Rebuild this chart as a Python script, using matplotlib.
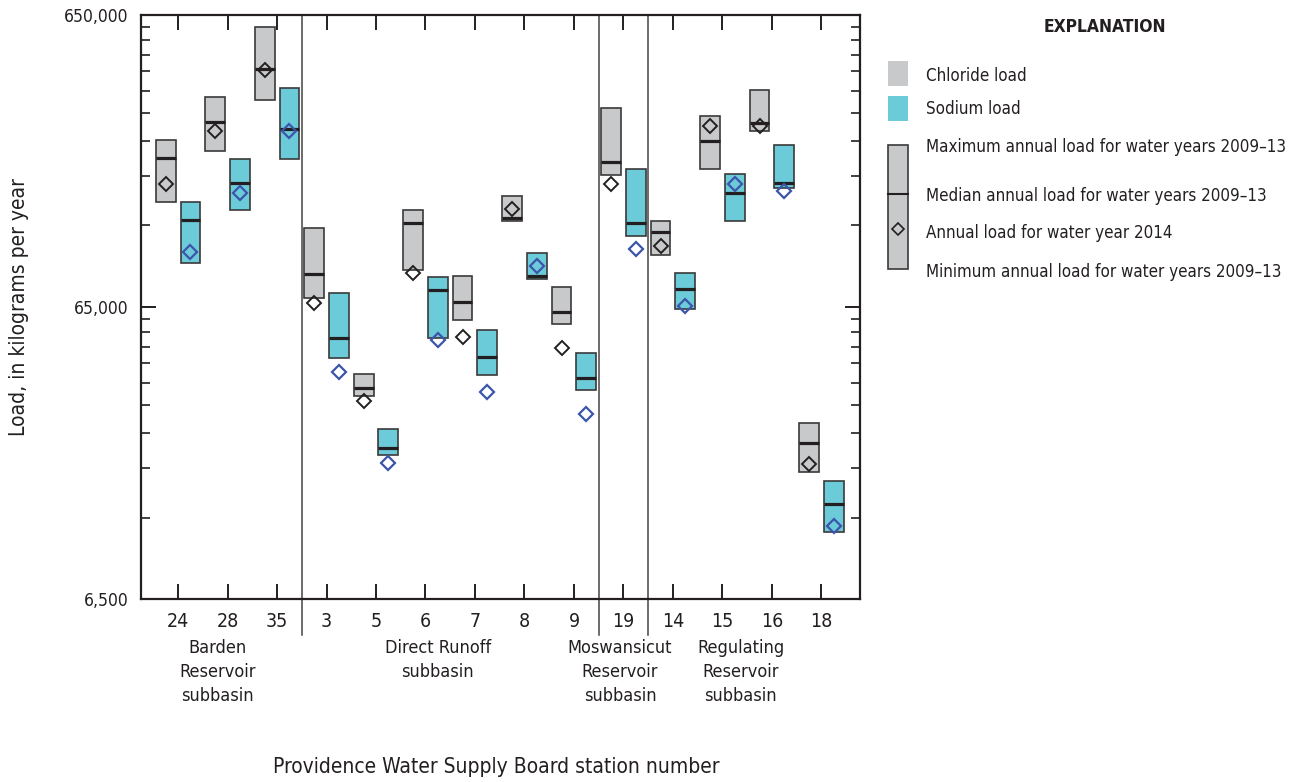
import numpy as np
import matplotlib
matplotlib.use('Agg')
import matplotlib.pyplot as plt
from matplotlib.patches import Rectangle
from matplotlib.ticker import FixedLocator, NullFormatter

plt.rcParams['font.family'] = ['DejaVu Sans']
plt.rcParams['font.stretch'] = 'condensed'

# station numbers, in plotting order
stations = ['24', '28', '35', '3', '5', '6', '7', '8', '9', '19', '14', '15', '16', '18']

# chloride loads, kg/yr (water years 2009-13 max / median / min, and 2014)
cl_max = [242000, 339000, 589000, 121000, 38300, 139000, 83100, 156000, 75900, 311000, 128000, 292000, 360000, 26000]
cl_med = [210600, 279700, 422700, 84200, 34200, 126200, 67700, 131300, 62400, 203100, 117000, 240800, 276800, 22300]
cl_min = [149000, 222000, 333000, 69900, 32300, 86700, 58800, 127600, 56700, 183400, 97800, 193200, 259400, 17700]
cl_2014 = [170800, 260000, 420000, 66900, 31000, 84700, 51100, 140300, 47100, 171200, 105300, 269800, 269800, 18850]

# sodium loads, kg/yr
na_max = [149000, 208500, 364000, 72300, 24800, 82500, 54000, 99100, 45100, 192600, 84900, 184800, 232200, 16480]
na_med = [128900, 173000, 263500, 51000, 21400, 74300, 43900, 83100, 37200, 125600, 74700, 159500, 172100, 13750]
na_min = [91600, 139800, 208500, 43400, 20200, 51000, 38000, 81000, 33800, 113900, 64100, 128200, 165900, 11020]
na_2014 = [99900, 159800, 260000, 39000, 18950, 50000, 33100, 89900, 27950, 102300, 65500, 171600, 161600, 11590]

# subbasin groups: label and the last station index of each group
subbasins = ['Barden\nReservoir\nsubbasin', 'Direct Runoff\nsubbasin',
             'Moswansicut\nReservoir\nsubbasin', 'Regulating\nReservoir\nsubbasin']
group_ends = [2, 8, 9]

y_major = [6500, 65000, 650000]
y_major_labels = ['6,500', '65,000', '650,000']

GRAY = '#c8c9cb'
CYAN = '#6ccbd9'
BLUE = '#3c55aa'
EDGE = '#3a3a3a'
INK = '#231f20'

fig = plt.figure(figsize=(12.92, 7.82), dpi=100)
ax = fig.add_axes([0.1091, 0.234, 0.5565, 0.7472])

x = np.arange(len(stations))
off = 0.25
w = 0.4

cl_max, cl_med, cl_min, cl_2014 = map(np.array, (cl_max, cl_med, cl_min, cl_2014))
na_max, na_med, na_min, na_2014 = map(np.array, (na_max, na_med, na_min, na_2014))

ax.bar(x - off, cl_max - cl_min, bottom=cl_min, width=w, color=GRAY,
       edgecolor=EDGE, linewidth=1.2, zorder=2)
ax.bar(x + off, na_max - na_min, bottom=na_min, width=w, color=CYAN,
       edgecolor=EDGE, linewidth=1.2, zorder=2)
ax.hlines(cl_med, x - off - w / 2, x - off + w / 2, color=INK, lw=2.3, zorder=3)
ax.hlines(na_med, x + off - w / 2, x + off + w / 2, color=INK, lw=2.3, zorder=3)
ax.plot(x - off, cl_2014, 'D', ms=7.5, mfc='none', mec=INK, mew=1.4, ls='none', zorder=4)
ax.plot(x + off, na_2014, 'D', ms=7.5, mfc='none', mec=BLUE, mew=1.6, ls='none', zorder=4)

ax.set_yscale('log')
ax.set_ylim(6500, 650000)
ax.set_xlim(-0.75, 13.78)

# minor ticks split each decade into ten equal linear steps
minor = list(np.arange(6500 + 5850, 65000, 5850)) + list(np.arange(65000 + 58500, 650000, 58500))
ax.yaxis.set_major_locator(FixedLocator(y_major))
ax.set_yticklabels(y_major_labels)
ax.yaxis.set_minor_locator(FixedLocator(minor))
ax.yaxis.set_minor_formatter(NullFormatter())
ax.tick_params(axis='y', which='major', direction='in', length=11, width=1.4,
               right=True, labelsize=12.5, pad=9, colors=INK)
ax.tick_params(axis='y', which='minor', direction='in', length=6.5, width=1.2,
               right=True, colors=INK)

ax.set_xticks(x)
ax.set_xticklabels(stations)
ax.tick_params(axis='x', which='major', direction='in', length=11, width=1.4,
               top=True, labelsize=14, pad=9, colors=INK)
ax.tick_params(axis='x', which='minor', bottom=False, top=False)

for s in ax.spines.values():
    s.set_linewidth(1.6)
    s.set_color(INK)

# subbasin separators, running below the axis
for e in group_ends:
    ax.axvline(e + 0.5, ymin=-0.062, ymax=1, color='#444444', lw=1.1, clip_on=False, zorder=1)

trans = ax.get_xaxis_transform()
for lab, xc in zip(subbasins, [0.8, 5.25, 8.93, 11.37]):
    ax.text(xc, -0.069, lab, transform=trans, ha='center', va='top',
            fontsize=13, linespacing=1.42, color=INK)

ax.set_ylabel('Load, in kilograms per year', fontsize=15, color=INK)
ax.yaxis.set_label_coords(-0.156, 0.5)
fig.text(496 / 1292, 1 - 767 / 782, 'Providence Water Supply Board station number',
         ha='center', va='center', fontsize=15, color=INK)

# explanation, laid out in pixel coordinates
lg = fig.add_axes([0, 0, 1, 1], zorder=-1)
lg.set_xlim(0, 1292)
lg.set_ylim(782, 0)
lg.axis('off')
lg.text(1105, 27, 'EXPLANATION', ha='center', va='center', fontsize=12.5,
        fontweight='bold', color=INK)
lg.add_patch(Rectangle((888, 61), 20, 25, facecolor=GRAY, edgecolor='none'))
lg.add_patch(Rectangle((888, 96), 20, 25, facecolor=CYAN, edgecolor='none'))
lg.add_patch(Rectangle((888, 145), 20, 124, facecolor=GRAY, edgecolor=EDGE, lw=1.2))
lg.plot([888, 908], [194, 194], color=INK, lw=1.5)
lg.plot([898], [229], 'D', ms=6.5, mfc='none', mec=INK, mew=1.2)
items = [('Chloride load', 76), ('Sodium load', 109),
         ('Maximum annual load for water years 2009\u201313', 147),
         ('Median annual load for water years 2009\u201313', 196),
         ('Annual load for water year 2014', 233),
         ('Minimum annual load for water years 2009\u201313', 272)]
for txt, yy in items:
    lg.text(926, yy, txt, ha='left', va='center', fontsize=12.2, color=INK)

fig.savefig('out.png', dpi=100, facecolor='white')
